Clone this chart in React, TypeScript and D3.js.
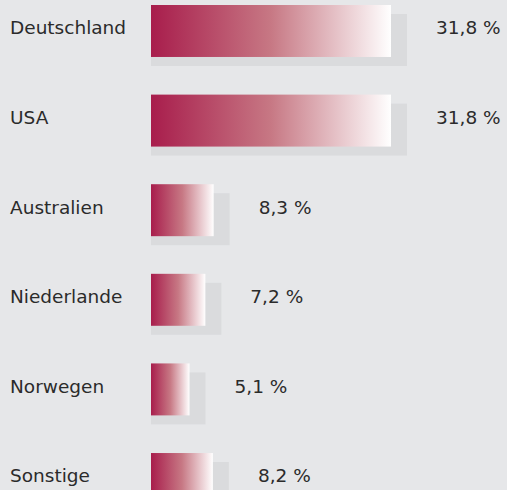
import { useEffect, useRef } from 'react';
import * as d3 from 'd3';

const countries = ['Deutschland', 'USA', 'Australien', 'Niederlande', 'Norwegen', 'Sonstige'];
const shares = [31.8, 31.8, 8.3, 7.2, 5.1, 8.2];
const shareLabels = ['31,8 %', '31,8 %', '8,3 %', '7,2 %', '5,1 %', '8,2 %'];

export default function App() {
  const svgRef = useRef<SVGSVGElement>(null);

  useEffect(() => {
    if (!svgRef.current) return;
    document.body.style.margin = '0';
    document.body.style.background = '#e6e7e9';

    const svg = d3.select(svgRef.current);
    svg.selectAll('*').remove();

    const width = 507;
    const height = 490;
    const barLeft = 151;
    const shadowDx = 16;
    const shadowDy = 9;
    const font = "'DejaVu Sans', sans-serif";

    svg.attr('width', width).attr('height', height).attr('viewBox', `0 0 ${width} ${height}`);

    svg.append('rect').attr('width', width).attr('height', height).attr('fill', '#e6e7e9');

    const defs = svg.append('defs');
    const grad = defs
      .append('linearGradient')
      .attr('id', 'bar-grad')
      .attr('x1', '0%')
      .attr('x2', '100%')
      .attr('y1', '0%')
      .attr('y2', '0%');
    grad.append('stop').attr('offset', '0%').attr('stop-color', '#a81d4c');
    grad.append('stop').attr('offset', '50%').attr('stop-color', '#c77884');
    grad.append('stop').attr('offset', '100%').attr('stop-color', '#ffffff');

    const x = d3.scaleLinear().domain([0, 31.8]).range([0, 240]);
    const y = d3.scaleBand<string>().domain(countries).range([5, 453 + 52]).paddingInner(0.42).paddingOuter(0);

    const rows = svg
      .selectAll('g.row')
      .data(countries)
      .join('g')
      .attr('class', 'row')
      .attr('transform', (d) => `translate(0, ${y(d)})`);

    // shadows
    rows
      .append('rect')
      .attr('x', barLeft)
      .attr('y', shadowDy)
      .attr('width', (_, i) => x(shares[i]) + shadowDx)
      .attr('height', y.bandwidth())
      .attr('fill', '#dadbdd');

    // bars
    rows
      .append('rect')
      .attr('x', barLeft)
      .attr('y', 0)
      .attr('width', (_, i) => x(shares[i]))
      .attr('height', y.bandwidth())
      .attr('fill', 'url(#bar-grad)');

    // country labels
    rows
      .append('text')
      .attr('x', 10)
      .attr('y', y.bandwidth() / 2 - 3)
      .attr('dy', '0.35em')
      .attr('font-family', font)
      .attr('font-size', 18.5)
      .attr('fill', '#2b2b2b')
      .text((d) => d);

    // value labels
    rows
      .append('text')
      .attr('x', (_, i) => barLeft + x(shares[i]) + shadowDx + 29)
      .attr('y', y.bandwidth() / 2 - 3)
      .attr('dy', '0.35em')
      .attr('font-family', font)
      .attr('font-size', 18.5)
      .attr('fill', '#2b2b2b')
      .text((_, i) => shareLabels[i]);
  }, []);

  return <svg ref={svgRef} style={{ display: 'block' }} />;
}
